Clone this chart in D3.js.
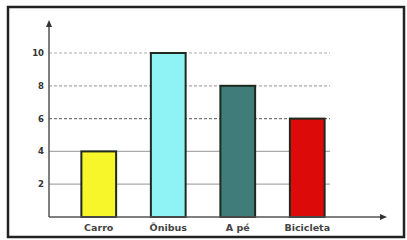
<!DOCTYPE html>
<html><head><meta charset="utf-8">
<script src="https://cdn.jsdelivr.net/npm/d3@7"></script>
<style>html,body{margin:0;padding:0;background:#fff;}svg{display:block;}</style>
</head><body>
<svg id="c" width="407" height="240"></svg>
<script>
const categories = ["Carro", "Ônibus", "A pé", "Bicicleta"];
const values = [4, 10, 8, 6];
const colors = ["#f6f62a", "#8ff3f6", "#3f7c7a", "#dd0a0a"];
const yTicks = [2, 4, 6, 8, 10];

const svg = d3.select("#c");
// outer frame
svg.append("rect").attr("x", 8).attr("y", 7).attr("width", 396).attr("height", 230)
  .attr("fill", "none").attr("stroke", "#222").attr("stroke-width", 2.5);

const x0 = 49, y0 = 217;
const x = d3.scaleBand().domain(categories).range([64, 342]).paddingInner(0.5).paddingOuter(0.25);
const y = d3.scaleLinear().domain([0, 10]).range([y0, 53]);

// gridlines
svg.append("g").selectAll("line").data(yTicks).join("line")
  .attr("x1", x0).attr("x2", 330)
  .attr("y1", d => y(d)).attr("y2", d => y(d))
  .attr("stroke", d => d === 6 ? "#777" : "#aaa")
  .attr("stroke-width", 1.2)
  .attr("stroke-dasharray", d => d >= 6 ? "3,2" : null);

// y tick labels
svg.append("g").selectAll("text").data(yTicks).join("text")
  .attr("x", 44).attr("y", d => y(d)).attr("dy", "0.35em")
  .attr("text-anchor", "end")
  .attr("font-family", "DejaVu Sans, sans-serif")
  .attr("font-size", 8.5).attr("font-weight", "bold").attr("fill", "#333")
  .text(d => d);

// bars
svg.append("g").selectAll("rect").data(values).join("rect")
  .attr("x", (d, i) => x(categories[i]))
  .attr("y", d => y(d))
  .attr("width", x.bandwidth())
  .attr("height", d => y(0) - y(d))
  .attr("fill", (d, i) => colors[i])
  .attr("stroke", "#1e2a1e").attr("stroke-width", 2);

// axes
svg.append("line").attr("x1", x0).attr("x2", x0).attr("y1", y0).attr("y2", 24)
  .attr("stroke", "#555").attr("stroke-width", 1.5);
svg.append("path").attr("d", `M${x0},20 L${x0-3},27 L${x0+3},27 Z`).attr("fill", "#333");
svg.append("line").attr("x1", x0).attr("x2", 382).attr("y1", y0).attr("y2", y0)
  .attr("stroke", "#555").attr("stroke-width", 1.5);
svg.append("path").attr("d", `M387,${y0} L380,${y0-3} L380,${y0+3} Z`).attr("fill", "#333");

// x labels
svg.append("g").selectAll("text").data(categories).join("text")
  .attr("x", d => x(d) + x.bandwidth() / 2).attr("y", 231)
  .attr("text-anchor", "middle")
  .attr("font-family", "DejaVu Sans, sans-serif")
  .attr("font-size", 9.5).attr("font-weight", "bold").attr("fill", "#444")
  .text(d => d);
</script>
</body></html>
